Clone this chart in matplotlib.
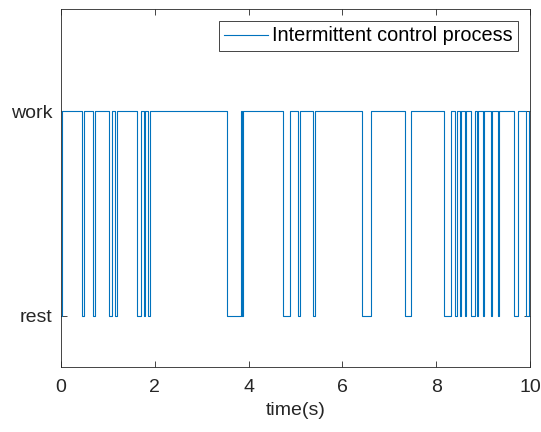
import matplotlib
matplotlib.use('Agg')
import matplotlib.pyplot as plt

#### Data ####
# switching instants (s) and the state held from each instant on (0 = rest, 1 = work)
switch_times = [0.00, 0.02, 0.44, 0.50, 0.69, 0.72, 1.02, 1.09, 1.15, 1.19,
                1.61, 1.70, 1.76, 1.79, 1.86, 1.90, 3.55, 3.83, 3.86, 3.88,
                4.73, 4.88, 5.06, 5.09, 5.37, 5.42, 6.42, 6.60, 7.33, 7.46,
                8.17, 8.31, 8.41, 8.45, 8.51, 8.53, 8.62, 8.64, 8.75, 8.82,
                8.88, 8.90, 9.00, 9.02, 9.17, 9.19, 9.31, 9.33, 9.65, 9.74,
                9.92, 9.97]
states = [0, 1, 0, 1, 0, 1, 0, 1, 0, 1,
          0, 1, 0, 1, 0, 1, 0, 1, 0, 1,
          0, 1, 0, 1, 0, 1, 0, 1, 0, 1,
          0, 1, 0, 1, 0, 1, 0, 1, 0, 1,
          0, 1, 0, 1, 0, 1, 0, 1, 0, 1,
          0, 1]
t_end = 10.0

x_ticks = [0, 2, 4, 6, 8, 10]
y_labels = ['rest', 'work']

#### Plot ####
plt.rcParams['font.family'] = ['Liberation Sans', 'DejaVu Sans']
fig = plt.figure(figsize=(5.41, 4.32), dpi=100)
ax = fig.add_axes([61 / 541, 65 / 432, 469 / 541, 358 / 432])

ax.step(switch_times + [t_end], states + [states[-1]], where='post',
        color='#0072BD', linewidth=0.8, label='Intermittent control process')

ax.set_xlim(0, 10)
ax.set_ylim(-0.25, 1.5)
ax.set_xticks(x_ticks)
ax.set_yticks([0, 1])
ax.set_yticklabels(y_labels)
ax.set_xlabel('time(s)', fontsize=14, color='#262626', labelpad=4)

ax.tick_params(direction='in', top=True, right=True, length=4, width=0.6,
               colors='#262626', labelsize=14)
ax.tick_params(axis='x', pad=9)
ax.tick_params(axis='y', pad=6)
for s in ax.spines.values():
    s.set_color('#262626')
    s.set_linewidth(0.6)

leg = ax.legend(loc='upper right', fontsize=14.3, fancybox=False, framealpha=1,
                edgecolor='#262626', borderpad=0.26, handlelength=2.2,
                handletextpad=0.2, borderaxespad=0.62)
leg.get_frame().set_linewidth(0.6)

plt.savefig('out.png', dpi=100)
plt.close()
